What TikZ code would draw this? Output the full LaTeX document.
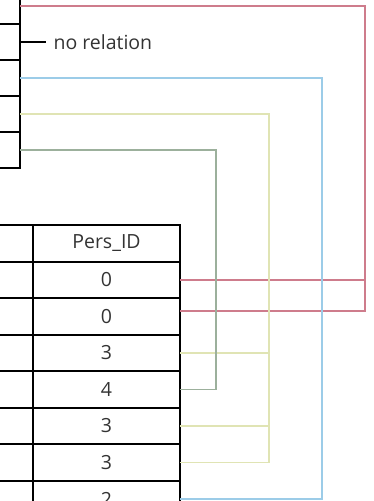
\documentclass[tikz,border=0pt]{standalone}
\usepackage{fontspec}
\setmainfont{Open Sans}
\usepackage{tikz}
\usetikzlibrary{positioning}
\definecolor{relred}{RGB}{206,124,140}
\definecolor{relblue}{RGB}{156,204,232}
\definecolor{relyellow}{RGB}{224,228,180}
\definecolor{relgray}{RGB}{156,176,156}

\begin{document}
\begin{tikzpicture}[x=1pt,y=-1pt,
  cell/.style={rectangle, draw, line width=2.2pt, inner sep=0pt, outer sep=0pt,
    text=black!80, font=\fontsize{19.5}{22}\selectfont},
  top cell/.style={cell, minimum width=80pt, minimum height=36pt},
  id cell/.style={cell, minimum width=147pt, minimum height=36.5pt},
  key cell/.style={cell, minimum width=63pt, minimum height=36.5pt},
  rel line/.style={line width=1.6pt}]

  \useasboundingbox (0,0) rectangle (373,501);
  \clip (0,0) rectangle (373,501);

  % upper table, only its right edge shows
  \node [top cell] (t1) at (-20,6) {};
  \node [top cell, below=0pt of t1] (t2) {};
  \node [top cell, below=0pt of t2] (t3) {};
  \node [top cell, below=0pt of t3] (t4) {};
  \node [top cell, below=0pt of t4] (t5) {};

  % lower table
  \node [id cell] (p0) at (106.5,243.5) {Pers\_ID};
  \node [id cell, below=0pt of p0] (p1) {0};
  \node [id cell, below=0pt of p1] (p2) {0};
  \node [id cell, below=0pt of p2] (p3) {3};
  \node [id cell, below=0pt of p3] (p4) {4};
  \node [id cell, below=0pt of p4] (p5) {3};
  \node [id cell, below=0pt of p5] (p6) {3};
  \node [id cell, below=0pt of p6] (p7) {2};
  \foreach \i in {0,...,7}
    \node [key cell, left=0pt of p\i] (k\i) {};

  \coordinate (redx) at (365,0);
  \coordinate (bluex) at (322,0);
  \coordinate (yelx) at (269,0);
  \coordinate (grayx) at (216,0);
  \coordinate (p2r) at ([yshift=5.5pt]p2.east);

  % relations
  \draw [rel line, relred] (t1.east) -| (p2r -| redx) -- (p2r);
  \draw [rel line, relred] (p1.east) -- (p1.east -| redx);
  \draw [rel line, relblue] (t3.east) -| (p7.east -| bluex) -- (p7.east);
  \draw [rel line, relyellow] (t4.east) -| (p6.east -| yelx) -- (p6.east);
  \draw [rel line, relyellow] (p3.east) -- (p3.east -| yelx);
  \draw [rel line, relyellow] (p5.east) -- (p5.east -| yelx);
  \draw [rel line, relgray] (t5.east) -| (p4.east -| grayx) -- (p4.east);

  \node [right=30pt of t2.east, anchor=west, text=black!80,
    font=\fontsize{19.5}{22}\selectfont] (norel) {no relation};
  \draw [line width=1.5pt, shorten >=4pt] (t2.east) -- (norel.west);
\end{tikzpicture}
\end{document}
